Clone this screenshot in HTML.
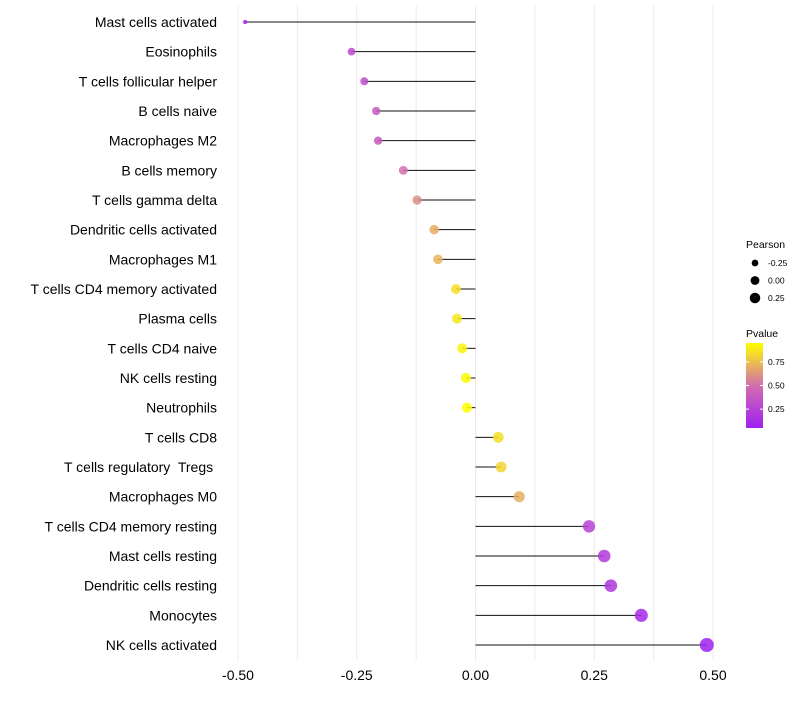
<!DOCTYPE html>
<html><head><meta charset="utf-8"><style>
body{margin:0;background:#fff;font-family:"Liberation Sans",sans-serif;}
text{white-space:pre;}
</style></head><body>
<svg id="c" width="800" height="700" xmlns="http://www.w3.org/2000/svg"></svg>
<script>
const categories=["Mast cells activated","Eosinophils","T cells follicular helper","B cells naive","Macrophages M2","B cells memory","T cells gamma delta","Dendritic cells activated","Macrophages M1","T cells CD4 memory activated","Plasma cells","T cells CD4 naive","NK cells resting","Neutrophils","T cells CD8","T cells regulatory  Tregs ","Macrophages M0","T cells CD4 memory resting","Mast cells resting","Dendritic cells resting","Monocytes","NK cells activated"];
const pearson=[-0.485,-0.261,-0.234,-0.209,-0.205,-0.152,-0.123,-0.087,-0.079,-0.041,-0.039,-0.028,-0.02,-0.018,0.048,0.054,0.092,0.239,0.271,0.285,0.349,0.487];
const pvalue=[0.05,0.3,0.32,0.38,0.38,0.5,0.6,0.7,0.72,0.85,0.88,0.92,0.94,0.95,0.85,0.82,0.7,0.25,0.2,0.18,0.1,0.05];
const xTicks=[-0.5,-0.25,0,0.25,0.5];
const xTickLabels=["-0.50","-0.25","0.00","0.25","0.50"];
const sizeLegend=[-0.25,0,0.25];
const sizeLegendLabels=["-0.25","0.00","0.25"];
const pLegendTicks=[0.75,0.5,0.25];

const svg=document.getElementById('c');
const NS="http://www.w3.org/2000/svg";
function mk(t,a,p){const e=document.createElementNS(NS,t);for(const k in a)e.setAttribute(k,a[k]);(p||svg).appendChild(e);return e;}
const x=v=>475.5+v*475;
const y=i=>22+i*(623/21);
const r=v=>Math.sqrt(Math.max(1,27+46*v));
function col(p){const t=Math.max(0,Math.min(1,(p-0.05)/0.9));
 const a=[160,32,240],m=[210,110,175],b=[255,255,0];let c;
 if(t<0.5){const s=t/0.5;c=a.map((v,i)=>v+(m[i]-v)*s);}else{const s=(t-0.5)/0.5;c=m.map((v,i)=>v+(b[i]-v)*s);}
 return `rgb(${c.map(Math.round).join(',')})`;}
for(let v=-0.5;v<=0.5001;v+=0.125){const g=mk('line',{x1:x(v),x2:x(v),y1:5,y2:660,stroke:'#ebebeb','stroke-width':1});

}
xTicks.forEach((v,i)=>{const t=mk('text',{x:x(v),y:680,'text-anchor':'middle','font-size':14,fill:'#000'});t.textContent=xTickLabels[i];

});
categories.forEach((c,i)=>{
 const t=mk('text',{x:217,y:y(i)+5,'text-anchor':'end','font-size':14,fill:'#000'});t.textContent=c;
 
 
 const l=mk('line',{x1:x(0),x2:x(pearson[i]),y1:y(i),y2:y(i),stroke:'#111','stroke-width':1});
 
 
 const d=mk('circle',{cx:x(pearson[i]),cy:y(i),r:r(pearson[i]),fill:col(pvalue[i]),'fill-opacity':0.85});
 
 
});
let t=mk('text',{x:746,y:248,'font-size':10.5});t.textContent="Pearson";


sizeLegend.forEach((v,i)=>{const cy=263+i*17.5;
 const c=mk('circle',{cx:755,cy:cy,r:r(v)*0.85,fill:'#000'});
 
 
 const tt=mk('text',{x:768,y:cy+3,'font-size':8.5});tt.textContent=sizeLegendLabels[i];
 
 });
t=mk('text',{x:746,y:337,'font-size':10.5});t.textContent="Pvalue";


const defs=mk('defs',{});const gr=mk('linearGradient',{id:'pg',x1:0,y1:1,x2:0,y2:0},defs);
[0,0.5,1].forEach(s=>mk('stop',{offset:s,'stop-color':col(0.05+s*0.9)},gr));
const bar=mk('rect',{x:746,y:343,width:17,height:85,fill:'url(#pg)'});


pLegendTicks.forEach(p=>{const yy=428-(p-0.05)/0.9*85;
 mk('line',{x1:746,x2:749,y1:yy,y2:yy,stroke:'#fff'});mk('line',{x1:760,x2:763,y1:yy,y2:yy,stroke:'#fff'});
 const tt=mk('text',{x:768,y:yy+3,'font-size':8.5});tt.textContent=p.toFixed(2);
 
 });
</script>
</body></html>
